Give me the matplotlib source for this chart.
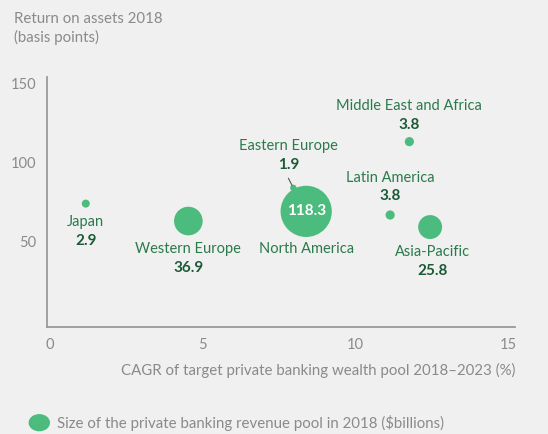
import numpy as np
import matplotlib.pyplot as plt

plt.rcParams['font.family'] = ['Lato', 'DejaVu Sans']

# --- data ---
regions = ['Japan', 'Western Europe', 'North America', 'Eastern Europe',
           'Middle East and Africa', 'Latin America', 'Asia-Pacific']
cagr = [1.17, 4.53, 8.39, 7.97, 11.77, 11.14, 12.45]
roa = [73.9, 62.9, 69.0, 83.8, 113.0, 66.7, 59.1]
revenue = [2.9, 36.9, 118.3, 1.9, 3.8, 3.8, 25.8]
value_labels = ['2.9', '36.9', '118.3', '1.9', '3.8', '3.8', '25.8']

# label offsets (points): name offset, value offset
name_off = [(0, -13.2), (0, -20), (0, -26.9), (-3.6, 30.5), (0, 26), (0, 27), (1.9, -18.3)]
val_off = [(0, -26.6), (0, -33.8), None, (-3.6, 16.8), (0, 12.2), (0, 13.9), (1.9, -32)]

bg = '#f0f0f0'
bubble = '#4cbb7e'
name_col = '#2b7a4b'
val_col = '#1a5a35'
grey = '#8a8a8a'

fig = plt.figure(figsize=(5.48, 4.34), dpi=100, facecolor=bg)
ax = fig.add_axes([47/548, (434-326.7)/434, 468/548, 250/434])
ax.set_facecolor(bg)

ax.scatter(cagr, roa, s=np.array(revenue) * 11.5, color=bubble, edgecolors='none', zorder=3)

for i, r in enumerate(regions):
    x, y = cagr[i], roa[i]
    ax.annotate(r, (x, y), xytext=name_off[i], textcoords='offset points',
                ha='center', va='center', fontsize=10.5, color=name_col)
    if val_off[i] is not None:
        ax.annotate(value_labels[i], (x, y), xytext=val_off[i], textcoords='offset points',
                    ha='center', va='center', fontsize=11, color=val_col, fontweight='bold')
    else:
        ax.text(x, y, value_labels[i], ha='center', va='center', fontsize=11,
                color='white', fontweight='bold', zorder=4)

# leader line for Eastern Europe
ax.annotate('', xy=(cagr[3], roa[3]), xytext=(-3.6, 7), textcoords='offset points',
            arrowprops=dict(arrowstyle='-', color='#555555', lw=0.8, shrinkA=0, shrinkB=2))

ax.set_xlim(-0.1, 15.23)
ax.set_ylim(-3.8, 154)
ax.set_xticks([0, 5, 10, 15])
ax.set_yticks([50, 100, 150])
ax.tick_params(length=0, labelsize=10.5, colors=grey, pad=8)
for s in ['top', 'right']:
    ax.spines[s].set_visible(False)
for s in ['left', 'bottom']:
    ax.spines[s].set_color('#9a9a9a')
    ax.spines[s].set_linewidth(1.3)

fig.text(14/548, 1 - 12/434, 'Return on assets 2018\n(basis points)', ha='left', va='top',
         fontsize=10.8, color=grey, linespacing=1.3)
fig.text(515/548, 1 - 370/434, 'CAGR of target private banking wealth pool 2018\u20132023 (%)',
         ha='right', va='center', fontsize=10.8, color=grey)

# legend
fig.patches.append(plt.Circle((39.3/548, 1 - 422.7/434), 10/548, transform=fig.transFigure,
                              color=bubble, figure=fig))
fig.text(57/548, 1 - 422.7/434, 'Size of the private banking revenue pool in 2018 ($billions)',
         ha='left', va='center', fontsize=10.8, color=grey)

fig.savefig('out.png', dpi=100, facecolor=bg)
